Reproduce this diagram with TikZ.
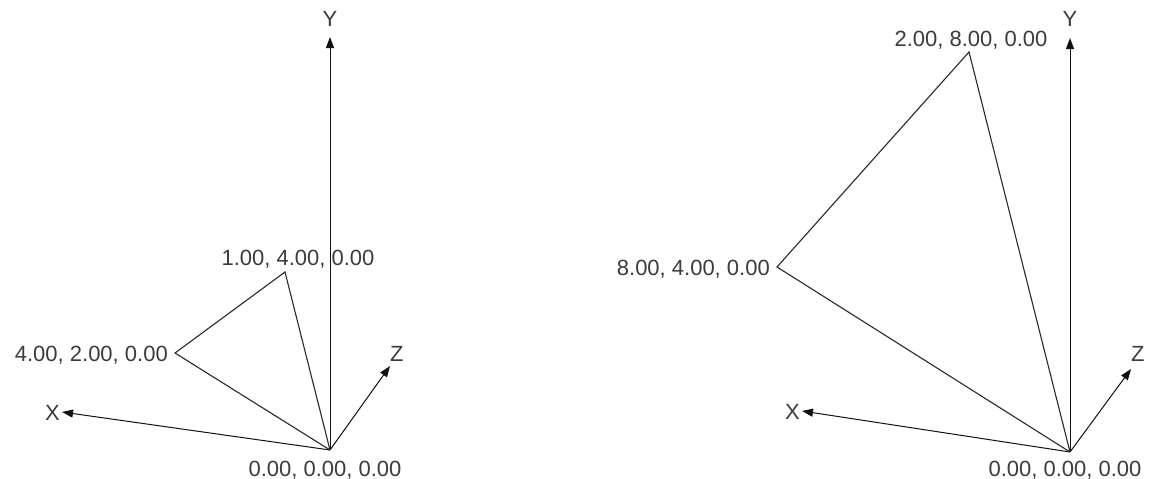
\documentclass[tikz,border=0pt]{standalone}
\usepackage{fontspec}
\setmainfont{Liberation Sans}
\usepackage{xcolor}
\usetikzlibrary{arrows.meta}
\definecolor{axisInk}{HTML}{111111}
\definecolor{labelInk}{HTML}{3C3C3C}

\begin{document}
\begin{tikzpicture}[
  x=1pt, y=-1pt,
  axisLine/.style={line width=1pt, color=axisInk, -{Triangle[length=11pt,width=8pt]}},
  edgeLine/.style={line width=1.1pt, color=axisInk!90},
  ptLabel/.style={font=\fontsize{22}{26}\selectfont, text=labelInk, inner sep=0pt},
]
\useasboundingbox[fill=white] (0,0) rectangle (1157,479);
% axes, same for both views
\foreach \n/\ox/\oy/\yy/\xx/\xy/\zx/\zy in {%
  L/330/450/37/62/412/390/366,
  R/1070/452/38/802/411/1131/369%
} {
  \coordinate (o\n) at (\ox,\oy);
  \coordinate (y\n) at (\ox,\yy);
  \coordinate (x\n) at (\xx,\xy);
  \coordinate (z\n) at (\zx,\zy);
  \draw[axisLine] (o\n) -- (y\n);
  \draw[axisLine] (o\n) -- (x\n);
  \draw[axisLine] (o\n) -- (z\n);
  \node[ptLabel, anchor=base] (yLab\n) at (\ox,27) {Y};
  \node[ptLabel, anchor=base east] (xLab\n) at (\xx-2,\xy+8) {X};
  \node[ptLabel, anchor=base west] (zLab\n) at (\zx,361) {Z};
  \node[ptLabel, anchor=base] (oLab\n) at (\ox-5,476) {0.00, 0.00, 0.00};
}
% left triangle
\coordinate (aL) at (175,353);
\coordinate (bL) at (285,272);
\draw[edgeLine] (oL) -- (aL) -- (bL) -- (oL);
\node[ptLabel, anchor=base east] (aLabL) at (168,361) {4.00, 2.00, 0.00};
\node[ptLabel, anchor=base] (bLabL) at (298,265) {1.00, 4.00, 0.00};
% right triangle
\coordinate (aR) at (777,267);
\coordinate (bR) at (969,52);
\draw[edgeLine] (oR) -- (aR) -- (bR) -- (oR);
\node[ptLabel, anchor=base east] (aLabR) at (770,275) {8.00, 4.00, 0.00};
\node[ptLabel, anchor=base] (bLabR) at (971,46) {2.00, 8.00, 0.00};
\end{tikzpicture}
\end{document}
